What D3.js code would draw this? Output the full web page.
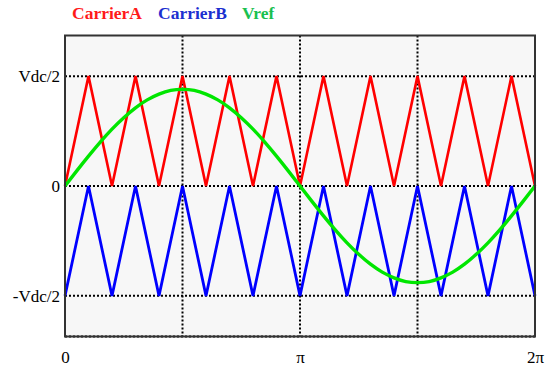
<!DOCTYPE html>
<html>
<head>
<meta charset="utf-8">
<script src="https://cdn.jsdelivr.net/npm/d3@7"></script>
<style>
  body { margin: 0; background: #fff; }
  svg { display: block; }
  svg text { font-family: "Liberation Serif", "Times New Roman", "DejaVu Serif", serif; }
</style>
</head>
<body>
<div id="chart"></div>
<script>
// phase in degrees (0..360 = 0..2π)
const carrierPhase = [0, 18, 36, 54, 72, 90, 108, 126, 144, 162, 180, 198, 216, 234, 252, 270, 288, 306, 324, 342, 360];
const carrierA = [0, 0.5, 0, 0.5, 0, 0.5, 0, 0.5, 0, 0.5, 0, 0.5, 0, 0.5, 0, 0.5, 0, 0.5, 0, 0.5, 0];
const carrierB = [-0.5, 0, -0.5, 0, -0.5, 0, -0.5, 0, -0.5, 0, -0.5, 0, -0.5, 0, -0.5, 0, -0.5, 0, -0.5, 0, -0.5];

const vrefPhase = [0, 9, 18, 27, 36, 45, 54, 63, 72, 81, 90, 99, 108, 117, 126, 135, 144, 153, 162, 171, 180,
  189, 198, 207, 216, 225, 234, 243, 252, 261, 270, 279, 288, 297, 306, 315, 324, 333, 342, 351, 360];
const vref = [0, 0.069, 0.136, 0.2, 0.259, 0.311, 0.356, 0.392, 0.418, 0.435, 0.44, 0.435, 0.418, 0.392, 0.356, 0.311, 0.259, 0.2, 0.136, 0.069, 0,
  -0.069, -0.136, -0.2, -0.259, -0.311, -0.356, -0.392, -0.418, -0.435, -0.44, -0.435, -0.418, -0.392, -0.356, -0.311, -0.259, -0.2, -0.136, -0.069, 0];

const xTicks = [0, 180, 360];
const xTickLabels = ["0", "π", "2π"];
const xGrid = [90, 180, 270];
const yTicks = [0.5, 0, -0.5];
const yTickLabels = ["Vdc/2", "0", "-Vdc/2"];

const width = 551, height = 370;
const serif = "'Liberation Serif', 'Times New Roman', serif";

const svg = d3.select("#chart").append("svg")
  .attr("width", width)
  .attr("height", height);

const x = d3.scaleLinear().domain([0, 360]).range([65, 535]);
const y = d3.scaleLinear().domain([-0.685, 0.685]).range([336.5, 35.5]);

// plot background
svg.append("rect")
  .attr("x", x(0)).attr("y", y(0.685))
  .attr("width", x(360) - x(0)).attr("height", y(-0.685) - y(0.685))
  .attr("fill", "#f7f7f7");

// grid
const grid = svg.append("g")
  .attr("stroke", "#000")
  .attr("stroke-width", 2)
  .attr("stroke-dasharray", "2,2");

grid.selectAll("line.v")
  .data(xGrid)
  .join("line")
  .attr("class", "v")
  .attr("x1", d => x(d)).attr("x2", d => x(d))
  .attr("y1", y(0.685)).attr("y2", y(-0.685));

grid.selectAll("line.h")
  .data(yTicks.concat([-0.685]))
  .join("line")
  .attr("class", "h")
  .attr("x1", x(0)).attr("x2", x(360))
  .attr("y1", d => y(d)).attr("y2", d => y(d));

// series
const line = d3.line()
  .x(d => x(d[0]))
  .y(d => y(d[1]));

svg.append("path")
  .datum(carrierPhase.map((p, i) => [p, carrierA[i]]))
  .attr("fill", "none")
  .attr("stroke", "#ff0000")
  .attr("stroke-width", 2.6)
  .attr("d", line);

svg.append("path")
  .datum(carrierPhase.map((p, i) => [p, carrierB[i]]))
  .attr("fill", "none")
  .attr("stroke", "#0000ff")
  .attr("stroke-width", 2.8)
  .attr("d", line);

const smooth = d3.line()
  .x(d => x(d[0]))
  .y(d => y(d[1]))
  .curve(d3.curveNatural);

svg.append("path")
  .datum(vrefPhase.map((p, i) => [p, vref[i]]))
  .attr("fill", "none")
  .attr("stroke", "#00e600")
  .attr("stroke-width", 3.4)
  .attr("d", smooth);

// frame
svg.append("rect")
  .attr("x", x(0)).attr("y", y(0.685))
  .attr("width", x(360) - x(0)).attr("height", y(-0.685) - y(0.685))
  .attr("fill", "none")
  .attr("stroke", "#333")
  .attr("stroke-width", 2);

// axes labels
const xAxis = svg.append("g")
  .attr("transform", `translate(0, ${y(-0.685)})`)
  .call(d3.axisBottom(x).tickValues(xTicks).tickSize(0).tickPadding(14)
    .tickFormat((d, i) => xTickLabels[i]));
xAxis.attr("font-family", null).attr("font-size", null);
xAxis.select(".domain").remove();
xAxis.selectAll("text")
  .style("font-family", serif)
  .style("font-size", "17px")
  .attr("fill", "#000");

const yAxis = svg.append("g")
  .attr("transform", `translate(${x(0) - 5}, 0)`)
  .call(d3.axisLeft(y).tickValues(yTicks).tickSize(0).tickPadding(0)
    .tickFormat((d, i) => yTickLabels[i]));
yAxis.attr("font-family", null).attr("font-size", null);
yAxis.select(".domain").remove();
yAxis.selectAll("text")
  .style("font-family", serif)
  .style("font-size", "17px")
  .attr("fill", "#000");

// legend title
const legend = [
  { name: "CarrierA", color: "#ff1a1a", x: 72 },
  { name: "CarrierB", color: "#1c2fd0", x: 158 },
  { name: "Vref", color: "#19c04f", x: 242 }
];
svg.append("g").selectAll("text")
  .data(legend)
  .join("text")
  .attr("x", d => d.x)
  .attr("y", 19)
  .style("font-family", serif)
  .style("font-weight", "bold")
  .style("font-size", "17.5px")
  .attr("fill", d => d.color)
  .text(d => d.name);
</script>
</body>
</html>
